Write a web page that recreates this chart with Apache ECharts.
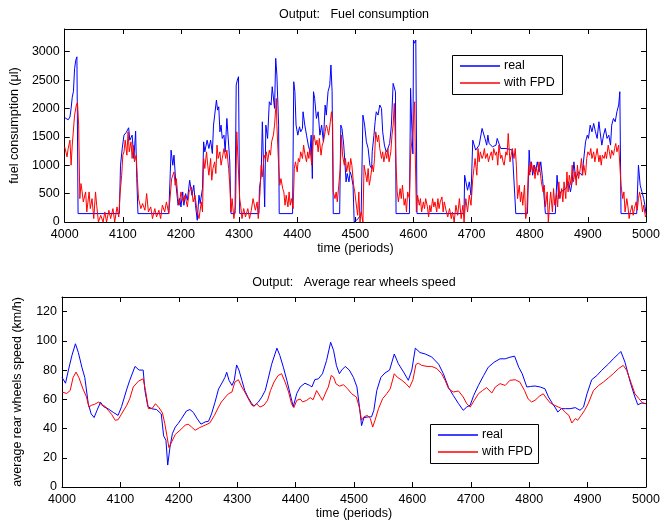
<!DOCTYPE html>
<html>
<head>
<meta charset="utf-8">
<script src="https://cdn.jsdelivr.net/npm/echarts@6/dist/echarts.min.js"></script>
<style>
  html, body { margin: 0; padding: 0; background: #fff; }
  #chart { width: 670px; height: 524px; }
</style>
</head>
<body>
<div id="chart"></div>
<script>
// fuel consumption (µl), [period, value]
var fuelReal = [[4000,1840],[4003,1820],[4006,1800],[4009,1850],[4011,2000],[4013,2200],[4015,2300],[4017,2700],[4019,2850],[4021,2910],[4022,2900],[4023,148],
  [4094,148],[4096,1000],[4099,1300],[4102,1530],[4106,1580],[4110,1660],[4112,1440],[4116,1530],[4119,1120],[4122,1600],[4124,770],[4126,148],
  [4179,148],[4181,700],[4183,1265],[4186,1000],[4188,1177],[4191,706],[4195,295],[4198,418],[4200,265],[4203,530],[4205,295],[4208,500],[4211,383],[4215,735],[4219,470],[4222,648],[4225,295],[4228,30],[4231,472],[4233,325],[4237,589],
  [4239,1412],[4241,1236],[4245,1442],[4248,1295],[4251,1442],[4254,1207],[4256,1707],[4258,1883],[4261,2148],[4263,1971],[4265,2030],[4267,1589],[4269,1707],[4271,1472],[4274,1530],[4276,1236],[4279,1824],[4281,1795],[4284,1060],[4286,148],
  [4293,148],[4295,2412],[4297,2500],[4299,2560],[4300,2550],[4301,148],
  [4334,148],[4335,589],[4338,824],[4340,1765],[4343,1795],[4344,266],[4346,1707],[4349,1472],[4352,2118],[4355,2060],[4357,2383],[4360,2412],[4361,2001],[4363,2883],[4365,2589],[4368,1707],[4369,148],
  [4392,148],[4394,2471],[4396,2295],[4398,1707],[4401,1530],[4404,1677],[4406,1589],[4409,1648],[4410,1942],[4413,1707],[4416,1530],[4419,1354],[4422,1236],[4424,1530],[4426,765],[4428,2295],[4430,2177],[4433,1824],[4436,1942],[4439,1530],[4442,1707],[4445,1413],[4448,2060],[4450,1883],[4453,2295],[4456,2412],[4458,2765],[4460,2295],[4462,148],
  [4473,148],[4475,1707],[4477,1648],[4480,1354],[4482,1060],[4484,707],[4486,854],[4489,707],[4491,883],[4493,824],[4496,648],[4498,0],[4505,60],[4510,148],[4512,148],
  [4513,1883],[4516,1707],[4519,1413],[4522,1295],[4525,1001],[4528,942],[4529,1236],[4532,1530],[4534,1765],[4536,1942],[4539,1883],[4542,2060],[4545,2001],[4547,1589],[4550,1354],[4553,1236],[4556,1295],[4559,1383],[4562,1707],[4565,2442],[4567,2460],[4569,2295],[4570,148],
  [4593,148],[4595,2354],[4597,1707],[4599,1200],[4600,3206],[4602,3150],[4603,3118],[4604,3206],[4605,3200],[4606,148],
  [4687,148],[4688,824],[4690,824],[4693,560],[4696,707],[4699,472],[4702,1442],[4704,1472],[4707,1266],[4710,1236],[4713,1354],[4718,1648],[4720,1648],[4723,1472],[4726,1354],[4728,1530],[4730,1383],[4733,1354],[4736,1325],[4742,1354],[4744,1472],[4747,1442],[4750,1295],[4753,1266],[4759,1295],[4764,1283],[4770,1266],[4773,1236],[4776,148],
  [4796,148],[4799,1266],[4801,883],[4803,1060],[4805,824],[4808,1001],[4810,883],[4813,1060],[4816,883],[4819,1060],[4822,765],[4824,530],[4827,148],
  [4844,148],[4847,824],[4850,412],[4853,530],[4858,560],[4862,589],[4867,707],[4870,530],[4873,707],[4876,1060],[4879,765],[4884,883],[4890,824],[4896,1413],[4899,1530],[4901,1472],[4904,1707],[4907,1589],[4910,1736],[4913,1589],[4916,1472],[4919,1766],[4921,1589],[4924,1354],[4927,1530],[4930,1648],[4933,1472],[4936,1530],[4939,1354],[4941,1707],[4944,1824],[4947,1766],[4950,1942],[4953,2060],[4955,2295],[4957,148],
  [4984,148],[4987,1001],[4990,648],[4993,530],[4996,412],[4998,300],[5000,148]];

var fuelFpd = [[4000,1324],[4004,1148],[4006,1295],[4009,1442],[4011,1001],[4013,1354],[4017,1883],[4020,2060],[4022,2107],[4024,1707],[4026,412],[4028,677],[4030,530],[4032,354],[4036,530],[4038,177],[4042,530],[4044,236],[4047,412],[4050,60],[4053,530],[4055,295],[4058,0],[4062,118],[4066,0],[4069,177],[4072,0],[4076,207],[4079,60],[4083,236],[4086,0],[4090,266],[4093,89],[4095,472],[4098,824],
  [4100,1177],[4102,1236],[4104,1442],[4107,1177],[4109,1589],[4111,1236],[4114,1413],[4116,1119],[4118,1354],[4120,1060],[4123,1177],[4125,765],[4127,412],[4131,236],[4134,325],[4138,207],[4141,501],[4144,177],[4148,266],[4151,60],[4155,236],[4158,89],[4162,207],[4165,60],[4168,295],[4172,177],[4175,354],[4179,148],[4182,177],[4184,765],[4188,883],[4190,648],[4192,765],[4195,412],[4197,295],
  [4200,530],[4204,354],[4207,472],[4211,266],[4214,530],[4218,618],[4221,354],[4224,472],[4228,177],[4231,60],[4235,354],[4237,177],[4239,1119],[4241,942],[4244,1236],[4246,1001],[4248,824],[4251,1119],[4253,736],[4255,942],[4258,1060],[4260,854],[4262,1354],[4264,1119],[4267,1236],[4269,1001],[4271,1119],[4274,1295],[4277,1119],[4279,1265],[4282,942],[4284,648],[4286,177],[4288,412],[4291,60],[4294,295],[4296,1589],[4299,1618],
  [4301,412],[4303,266],[4305,60],[4308,236],[4311,89],[4315,236],[4318,60],[4321,207],[4324,412],[4328,207],[4331,354],[4333,60],[4336,530],[4338,1001],[4340,795],[4343,1177],[4345,1119],[4347,1236],[4349,1060],[4352,1265],[4354,1177],[4356,1413],[4359,1530],[4361,1707],[4363,2001],[4364,2177],[4365,1707],[4368,1001],[4370,648],[4372,765],[4375,589],[4377,530],[4379,295],[4381,472],[4384,266],[4386,530],[4388,295],[4390,412],[4393,236],[4395,942],[4397,1060],
  [4400,883],[4402,1119],[4404,1060],[4406,1236],[4409,1119],[4411,1354],[4413,1207],[4416,1060],[4418,1236],[4420,1119],[4422,1295],[4425,1001],[4427,1413],[4429,1530],[4432,1354],[4434,1442],[4436,1236],[4438,1472],[4441,1177],[4443,1354],[4445,1413],[4448,1589],[4450,1707],[4452,1648],[4454,1530],[4457,1766],[4459,1942],[4461,1707],[4462,530],[4465,412],[4467,530],[4469,354],[4472,707],[4474,942],[4476,1530],[4478,1177],[4481,1001],[4483,1119],[4485,883],[4488,1060],[4490,883],[4492,1119],[4494,1001],[4497,648],[4499,530],
  [4501,354],[4504,118],[4506,530],[4508,0],[4510,177],[4513,0],[4515,1001],[4517,883],[4520,707],[4522,942],[4524,648],[4526,765],[4529,1001],[4531,883],[4533,1119],[4535,1589],[4538,1413],[4540,1530],[4542,1295],[4545,1119],[4547,1236],[4549,1060],[4552,1236],[4554,1119],[4556,1295],[4558,1060],[4561,1236],[4563,1530],[4565,1707],[4567,2089],[4570,1001],[4572,530],[4574,354],[4577,589],[4579,412],[4581,648],[4584,295],[4586,412],[4588,177],[4590,530],[4593,412],[4595,1177],[4597,1413],[4599,1648],
  [4602,2118],[4603,1236],[4605,177],[4607,472],[4610,295],[4612,412],[4614,177],[4617,354],[4619,236],[4621,412],[4624,266],[4626,89],[4628,295],[4630,177],[4633,412],[4635,266],[4637,354],[4640,177],[4642,412],[4644,236],[4646,354],[4649,442],[4651,177],[4653,354],[4656,207],[4659,89],[4662,236],[4665,60],[4667,177],[4670,0],[4673,295],[4676,118],[4679,412],[4682,60],[4685,295],[4687,0],[4690,412],[4693,177],[4696,472],[4699,295],
  [4702,765],[4704,942],[4706,1119],[4709,824],[4711,1295],[4713,1060],[4715,1236],[4718,1119],[4720,1177],[4722,1295],[4724,1119],[4727,1207],[4729,1060],[4731,1148],[4734,1236],[4736,1089],[4738,1295],[4741,1177],[4743,1236],[4745,1001],[4747,1354],[4750,1119],[4752,1177],[4754,1060],[4756,1001],[4759,1236],[4761,1177],[4763,1560],[4766,1060],[4768,1177],[4770,1295],[4773,1119],[4775,1295],[4777,1001],[4779,412],[4782,648],[4784,354],[4786,530],[4788,295],[4791,648],[4793,60],[4795,177],[4798,1001],
  [4800,824],[4802,1060],[4805,883],[4807,1001],[4809,765],[4811,971],[4814,824],[4816,1060],[4818,883],[4820,707],[4823,530],[4825,648],[4827,266],[4830,530],[4832,0],[4834,295],[4836,530],[4839,177],[4841,589],[4843,295],[4846,501],[4848,266],[4850,707],[4852,412],[4855,589],[4857,354],[4859,707],[4862,412],[4864,883],[4866,530],[4868,824],[4871,648],[4873,1001],[4875,707],[4878,883],[4880,648],[4882,1001],[4884,765],[4887,942],[4889,1119],[4891,824],[4893,1001],[4896,824],[4898,1119],
  [4900,1236],[4903,1177],[4905,1295],[4907,1119],[4910,1236],[4912,1060],[4914,1177],[4916,1295],[4919,1060],[4921,1177],[4923,1001],[4925,1177],[4928,1119],[4930,1236],[4932,1119],[4935,1354],[4937,1236],[4939,1119],[4941,1265],[4944,1177],[4946,1295],[4948,1383],[4950,1236],[4953,1354],[4955,1383],[4957,648],[4960,412],[4962,530],[4964,177],[4967,412],[4969,266],[4971,60],[4973,177],[4976,295],[4978,118],[4980,236],[4983,354],[4985,207],[4987,412],[4989,530],[4992,354],[4994,177],[4996,295],[4999,89],[5000,120]];

// average rear wheels speed (km/h), [period, value]
var speedReal = [[4000,75],[4006,71],[4011,80],[4017,90],[4023,98],[4028,92],[4034,82],[4039,75],[4045,57],[4050,50],[4055,47.5],[4060,52.5],[4066,58],[4071,55],[4079,53.5],[4088,51],[4096,49],[4102,55],[4111,67],[4116,73],[4125,82.5],[4132,80],[4139,80],[4142,66],[4147,55],[4154,53.5],[4162,53],[4170,50],[4174,35],[4178,32],[4181,15],[4185,27.5],[4189,36.5],[4194,41],[4199,43.5],[4205,47],[4213,52],[4219,53],[4225,51],[4231,47],[4238,43],[4245,44.5],[4251,45],[4256,50],[4262,58],[4268,67],[4273,70.5],[4279,75],[4282,78.5],[4286,73],[4291,69.5],[4295,73],[4299,83.5],[4303,80],[4308,73],[4313,66],[4319,61],[4325,57],[4329,55.5],[4336,58],[4342,61.5],[4348,66],[4353,74],[4359,84],[4368,95],[4373,90],[4379,82],[4385,73],[4392,61.5],[4396,55],[4402,64],[4408,68.5],[4416,71],[4424,69.5],[4428,68.5],[4433,73.5],[4439,74],[4446,77.5],[4453,86.5],[4460,99],[4465,93.5],[4470,83],[4475,77.5],[4479,80],[4485,82.5],[4492,80],[4499,75],[4505,68.5],[4509,56],[4513,42],[4517,47.5],[4525,48],[4530,48],[4534,52.5],[4539,66],[4546,75],[4553,78],[4561,80],[4569,91],[4576,84.3],[4585,78.6],[4593,73],[4599,80],[4605,95],[4613,92],[4622,91],[4633,89],[4645,84],[4653,77.5],[4662,68],[4670,62.7],[4679,57],[4687,52.5],[4693,54.7],[4699,56],[4705,62.7],[4713,69.5],[4722,76.3],[4730,82],[4740,85.4],[4750,87.7],[4759,87.7],[4767,88.8],[4775,89.5],[4782,82],[4788,77.5],[4796,68.4],[4802,68.8],[4810,69.1],[4819,68.4],[4827,67.2],[4833,61.6],[4840,57],[4844,54.7],[4849,51.3],[4855,53.6],[4862,53.6],[4870,53.6],[4879,54.3],[4887,52.5],[4893,54.7],[4899,63.8],[4907,73.4],[4916,76.3],[4924,79.8],[4936,84.3],[4944,87.7],[4953,91.1],[4957,92.7],[4964,85.4],[4973,71.8],[4981,61.6],[4986,56.3],[4993,57.5],[5000,57]];

var speedFpd = [[4000,65],[4008,64],[4014,66],[4019,75],[4024,78.6],[4029,74.8],[4036,67],[4042,61.6],[4046,54.7],[4051,56],[4056,56.6],[4063,58.2],[4068,56],[4074,55.2],[4079,52.5],[4085,49.7],[4091,45.7],[4096,46],[4102,50],[4111,56],[4116,60.4],[4122,68.4],[4131,72.5],[4139,74],[4143,66],[4148,53.6],[4155,54],[4160,57],[4166,54.3],[4172,50.7],[4176,43.4],[4180,34.3],[4183,27],[4188,31],[4194,36],[4202,38.8],[4211,42.3],[4216,43],[4222,41],[4228,38.8],[4236,40.7],[4245,42.3],[4253,43.8],[4261,49],[4268,54.7],[4273,58.2],[4280,61.6],[4285,63.8],[4291,65],[4296,71.8],[4302,73.4],[4308,68.4],[4313,65],[4319,60.4],[4325,56],[4329,55.2],[4333,57],[4339,54.7],[4346,56],[4352,59.3],[4357,66],[4363,71.8],[4370,76.3],[4376,77.5],[4382,71.8],[4388,65],[4393,57],[4397,54.3],[4402,59.3],[4408,60.2],[4412,58.2],[4419,59.3],[4425,61.1],[4430,59.7],[4436,66],[4442,62],[4446,59.3],[4452,65],[4456,68.4],[4461,76.3],[4465,75.2],[4469,70.7],[4475,69],[4482,70],[4489,67.2],[4496,63.8],[4504,61.6],[4509,54.7],[4513,45.7],[4517,48],[4523,49],[4528,46.8],[4532,41],[4536,45.7],[4542,53.6],[4549,60.4],[4556,63.8],[4562,67.2],[4569,77.5],[4574,75.2],[4582,73],[4589,70.7],[4595,68],[4601,73.4],[4606,83.8],[4610,84.7],[4616,83.2],[4625,82.5],[4633,82.5],[4642,81],[4650,77.5],[4656,73],[4662,67.2],[4670,65],[4679,65.7],[4687,61.6],[4693,57],[4699,54.7],[4706,59.3],[4713,63.8],[4720,66],[4727,68],[4736,64.3],[4742,68.4],[4750,70.7],[4759,69.5],[4767,73],[4776,73.4],[4784,71.8],[4792,66],[4798,60.4],[4804,58.2],[4810,59.3],[4817,62],[4824,63.8],[4830,60.4],[4836,57.5],[4843,56],[4850,54.7],[4856,53.6],[4863,50.7],[4868,49],[4873,43.8],[4879,46.8],[4883,45.7],[4889,49],[4895,52.5],[4901,57],[4910,66],[4919,69.5],[4927,71.8],[4936,74.8],[4944,77.5],[4953,81],[4961,83.2],[4967,79.8],[4975,70.7],[4981,63.8],[4988,60.4],[4994,57.5],[5000,57]];

var seriesNames = ['real', 'with FPD'];
var seriesColors = ['#0000ff', '#ff0000'];
var titles = ['Output:   Fuel consumption', 'Output:   Average rear wheels speed'];
var yNames = ['fuel consumption (\u03bcl)', 'average rear wheels speed (km/h)'];
var xName = 'time (periods)';

var FONT = 'Liberation Sans, Arial, Helvetica, sans-serif';
var txt = { color: '#000', fontFamily: FONT, fontSize: 12.5 };
// plain numbers, no thousands separator
var plain = function (v) { return String(v); };

function xAx(grid, top) {
  return {
    type: 'value', gridIndex: grid, min: 4000, max: 5000, interval: 100,
    position: top ? 'top' : 'bottom',
    name: top ? '' : xName, nameLocation: 'middle', nameGap: 19, nameTextStyle: txt,
    axisLine: { show: true, onZero: false, lineStyle: { color: '#000', width: 1 } },
    axisTick: { show: true, inside: true, length: 5, lineStyle: { color: '#000' } },
    axisLabel: { show: !top, margin: 6, formatter: plain, color: '#000', fontFamily: FONT, fontSize: 12.5 },
    splitLine: { show: false }
  };
}
function yAx(grid, right, max, interval, name) {
  return {
    type: 'value', gridIndex: grid, min: 0, max: max, interval: interval,
    position: right ? 'right' : 'left',
    name: right ? '' : name, nameLocation: 'middle', nameGap: 38, nameTextStyle: txt,
    axisLine: { show: true, onZero: false, lineStyle: { color: '#000', width: 1 } },
    axisTick: { show: true, inside: true, length: 5, lineStyle: { color: '#000' } },
    axisLabel: { show: !right, margin: 5, showMaxLabel: false, formatter: plain, color: '#000', fontFamily: FONT, fontSize: 12.5 },
    splitLine: { show: false }
  };
}
function line(name, color, data, ax) {
  return {
    name: name, type: 'line', data: data, xAxisIndex: ax, yAxisIndex: ax,
    symbol: 'none', showSymbol: false, lineStyle: { color: color, width: 1 },
    itemStyle: { color: color }, animation: false
  };
}
// boxed key, MATLAB style: frame, 40px line sample, label
function legendBox(x, y, w) {
  var kids = [{ type: 'rect', shape: { x: 0.5, y: 0.5, width: w, height: 39 },
                style: { fill: '#fff', stroke: '#000', lineWidth: 1 } }];
  seriesNames.forEach(function (n, i) {
    var cy = 11 + i * 17;
    kids.push({ type: 'line', shape: { x1: 8, y1: cy, x2: 48, y2: cy },
                style: { stroke: seriesColors[i], lineWidth: 1.3 } });
    kids.push({ type: 'text', x: 52, y: cy,
                style: { text: n, fill: '#000', font: '12.5px ' + FONT, textVerticalAlign: 'middle' } });
  });
  return { type: 'group', x: x, y: y, z: 100, children: kids };
}

var chart = echarts.init(document.getElementById('chart'));
chart.setOption({
  backgroundColor: '#fff',
  animation: false,
  grid: [
    { left: 62, right: 24, top: 29, height: 193 },
    { left: 62, right: 24, top: 297, height: 190 }
  ],
  xAxis: [xAx(0, false), xAx(0, true), xAx(1, false), xAx(1, true)],
  yAxis: [yAx(0, false, 3400, 500, yNames[0]), yAx(0, true, 3400, 500, ''),
          yAx(1, false, 130, 20, yNames[1]), yAx(1, true, 130, 20, '')],
  graphic: [
    { type: 'text', x: 354, y: 15, style: { text: titles[0], textAlign: 'center', textVerticalAlign: 'middle', fill: '#000', font: '12.5px ' + FONT } },
    { type: 'text', x: 354, y: 283, style: { text: titles[1], textAlign: 'center', textVerticalAlign: 'middle', fill: '#000', font: '12.5px ' + FONT } },
    legendBox(452, 55, 110),
    legendBox(430, 424, 108)
  ],
  series: [
    line(seriesNames[0], seriesColors[0], fuelReal, 0),
    line(seriesNames[1], seriesColors[1], fuelFpd, 0),
    line(seriesNames[0], seriesColors[0], speedReal, 2),
    line(seriesNames[1], seriesColors[1], speedFpd, 2)
  ]
});
</script>
</body>
</html>
